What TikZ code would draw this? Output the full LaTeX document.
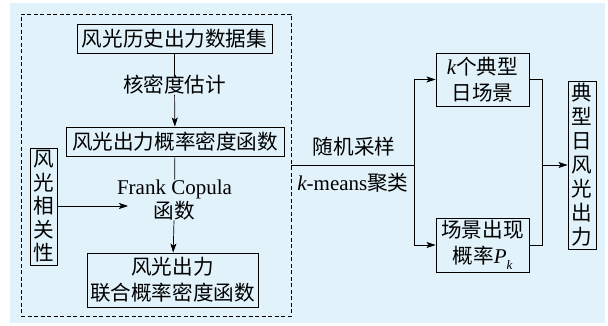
\documentclass[tikz,border=0pt]{standalone}
\usepackage{fontspec}
\setmainfont{Liberation Serif}
\newfontfamily\cjk{Noto Sans CJK SC}
\usetikzlibrary{arrows.meta}
\definecolor{bgblue}{RGB}{225,242,250}
\newcommand{\latit}[1]{{\rmfamily\itshape\fontsize{21}{24}\selectfont #1}}
\newcommand{\latup}[1]{{\rmfamily\upshape\fontsize{21}{24}\selectfont #1}}
\begin{document}
\begin{tikzpicture}[x=1pt,y=-1pt,
  every node/.style={inner sep=0pt,font=\cjk\fontsize{20.6}{26}\selectfont},
  box/.style={draw,line width=0.9pt,align=center},
  vbox/.style={draw,line width=0.9pt,align=center,font=\cjk\fontsize{20.6}{23.5}\selectfont},
  lbl/.style={align=center},
  arr/.style={-{Stealth[length=9pt,width=6pt,inset=2pt]},line width=0.7pt},
  ln/.style={line width=0.7pt}]
\useasboundingbox (0,0) rectangle (608,326);
\fill[bgblue] (10,3) rectangle (605,323);
\node[draw,dashed,line width=0.7pt,minimum width=270pt,minimum height=302pt,dash pattern=on 4pt off 2.5pt] (grp) at (156,165) {};
\node[box,minimum width=195pt,minimum height=29pt] (b1) at (174.5,38.5) {风光历史出力数据集};
\node[lbl] (kde) at (174.5,85) {核密度估计};
\node[box,minimum width=218pt,minimum height=29pt] (b2) at (175,141.5) {风光出力概率密度函数};
\node[lbl,font=\rmfamily\fontsize{21}{24}\selectfont] (fc) at (174.5,200) {Frank Copula\\{\cjk\fontsize{20.6}{24}\selectfont 函数}};
\node[box,minimum width=171pt,minimum height=54pt] (b3) at (172.5,280) {风光出力\\联合概率密度函数};
\node[vbox,minimum width=27pt,minimum height=117pt] (corr) at (43.5,206.5) {风\\光\\相\\关\\性};
\coordinate (fcin) at (128,206);
\draw[ln] (b1) -- (kde);
\draw[arr] (kde) -- (b2);
\draw[ln] (b2) -- (fc);
\draw[arr] (fc) -- (b3);
\draw[arr] (corr.east |- fcin) -- (fcin);
\node[lbl] (rs) at (354,147) {随机采样};
\node[lbl] (km) at (353,183) {\latit{k}\latup{-means}聚类};
\node[box,minimum width=93pt,minimum height=53pt] (kb) at (482.5,79.5) {\latit{k}个典型\\日场景};
\node[box,minimum width=93pt,minimum height=54pt] (pb) at (482.5,245) {场景出现\\概率\latit{P}\raisebox{-0.5ex}{\rmfamily\itshape\fontsize{13}{14}\selectfont k}};
\node[vbox,minimum width=28pt,minimum height=168pt,font=\cjk\fontsize{20.6}{24}\selectfont] (out) at (582,165) {典\\型\\日\\风\\光\\出\\力};
\coordinate (sp) at (414,165);
\coordinate (mg) at (542,165);
\draw[ln] (grp.east) -- (sp);
\draw[arr] (sp) |- (kb.west);
\draw[arr] (sp) |- (pb.west);
\draw[ln] (kb.east) -| (mg);
\draw[ln] (pb.east) -| (mg);
\draw[arr] (mg) -- (out.west);
\end{tikzpicture}
\end{document}
